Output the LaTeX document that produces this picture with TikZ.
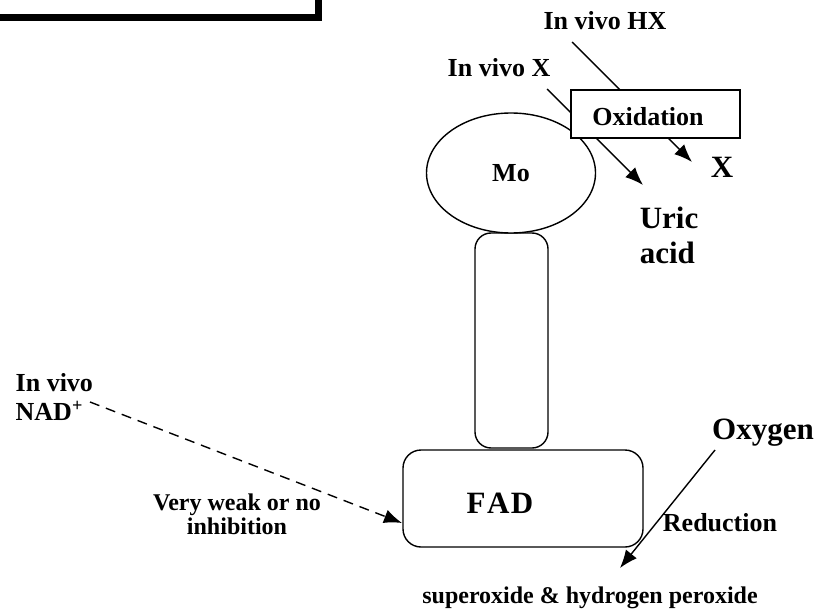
\documentclass[tikz,border=0pt]{standalone}
\usepackage{fontspec}
\setmainfont{Liberation Serif}
\usetikzlibrary{arrows.meta,shapes.geometric}

\begin{document}
\begin{tikzpicture}[x=1pt,y=-1pt,line width=1.4pt,
  lbl/.style={font=\fontsize{26}{29}\selectfont\bfseries,inner sep=0pt},
  biglbl/.style={font=\fontsize{31}{35}\selectfont\bfseries,inner sep=0pt},
  smalllbl/.style={font=\fontsize{24}{24}\selectfont\bfseries,inner sep=0pt},
  part/.style={draw,fill=white,rounded corners=16pt},
  flow/.style={-{Latex[length=18pt,width=14pt]}}]
\useasboundingbox (0,0) rectangle (821,612);

\draw[line width=7pt] (-5,18) -- (318,18) -- (318,-5);

\node[lbl] (hx) at (605,21) {In vivo HX};
\node[lbl] (invx) at (499,68) {In vivo X};
\node[biglbl] (xout) at (722,167) {X};
\node[biglbl,align=left] (uric) at (669,235) {Uric\\acid};

\coordinate (hxs) at (572,42);
\coordinate (hxe) at (692,162);
\coordinate (xs) at (547,89);
\coordinate (xe) at (643,185);
\draw[flow] (hxs) -- (hxe);
\draw[flow] (xs) -- (xe);

\node[part,minimum width=73pt,minimum height=215pt] (stem) at (511.5,340.5) {};
\node[part,minimum width=240pt,minimum height=97pt,rounded corners=18pt] (fadbox) at (523,498.5) {};
\node[biglbl] (fad) at (500,503) {F\kern1.5pt A\kern1.5pt D};
\node[draw,fill=white,ellipse,minimum width=169pt,minimum height=120pt,inner sep=0pt] (mo) at (511,173) {};
\node[lbl] at (mo.center) {Mo};

\node[draw,fill=white,minimum width=169pt,minimum height=48pt] (oxbox) at (655.5,114) {};
\node[lbl] (oxid) at (648,117) {Oxidation};

\node[lbl,align=left,anchor=west] (nad) at (15,397) {In vivo\\NAD\textsuperscript{+}};
\node[smalllbl,align=center] (weak) at (237,514) {Very weak or no\\inhibition};
\coordinate (nads) at (90,402);
\coordinate (nade) at (402,523);
\draw[flow,dash pattern=on 10pt off 7pt] (nads) -- (nade);

\node[biglbl] (oxygen) at (763,433) {Oxygen};
\node[lbl] (red) at (720,523) {Reduction};
\node[smalllbl] (prod) at (590,598) {superoxide \& hydrogen peroxide};
\coordinate (oxs) at (715,450);
\coordinate (oxe) at (620,568);
\draw[flow] (oxs) -- (oxe);
\end{tikzpicture}
\end{document}
